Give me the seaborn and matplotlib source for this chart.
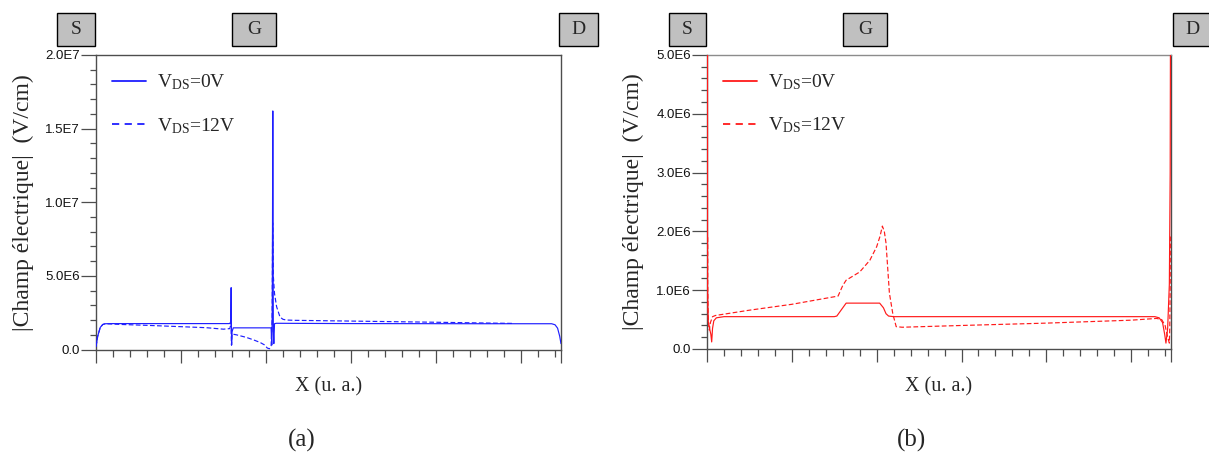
import matplotlib
matplotlib.use("Agg")
import matplotlib.pyplot as plt
import seaborn as sns
from matplotlib.patches import Rectangle
from matplotlib.lines import Line2D
from matplotlib.ticker import MultipleLocator, FixedLocator, FixedFormatter

# ---------------- data (x in arbitrary units, field in 1E6 V/cm) ----------------
# Panel (a): blue
xa_0v = [0.000, 0.020, 0.050, 0.080, 0.110, 0.200, 1.000, 1.570, 1.585, 1.590, 1.595, 1.600, 1.615,
         2.060, 2.068, 2.074, 2.080, 2.086, 2.092, 2.100, 2.120, 3.000, 4.500, 5.360, 5.400, 5.430,
         5.455, 5.470]
ya_0v = [0.20, 0.90, 1.50, 1.70, 1.75, 1.76, 1.76, 1.76, 1.85, 4.20, 0.30, 1.20, 1.47,
         1.47, 0.30, 2.95, 16.2, 1.20, 0.40, 1.75, 1.78, 1.76, 1.75, 1.75, 1.68, 1.45,
         0.90, 0.40]

xa_12v = [0.000, 0.020, 0.050, 0.080, 0.110, 0.300, 0.600, 1.000, 1.300, 1.500, 1.575, 1.588,
          1.594, 1.600, 1.650, 1.770, 1.850, 1.930, 1.980, 2.015, 2.040, 2.060, 2.072, 2.078,
          2.086, 2.100, 2.125, 2.165, 2.200, 2.240, 2.350, 3.000, 4.000, 4.920]
ya_12v = [0.20, 0.90, 1.50, 1.70, 1.75, 1.70, 1.64, 1.55, 1.48, 1.38, 1.42, 1.80,
          0.30, 1.05, 1.00, 0.82, 0.66, 0.48, 0.32, 0.10, 0.05, 0.25, 2.00, 8.60,
          5.00, 3.80, 2.90, 2.20, 2.05, 2.00, 1.98, 1.93, 1.85, 1.77]

# Panel (b): red
xb_0v = [0.006, 0.006, 0.009, 0.015, 0.030, 0.045, 0.055, 0.065, 0.080, 0.110, 0.200, 1.500,
         1.530, 1.580, 1.640, 1.700, 2.035, 2.080, 2.110, 2.140, 2.200, 3.500, 5.280, 5.330,
         5.370, 5.395, 5.410, 5.430, 5.450, 5.460, 5.464]
yb_0v = [6.00, 1.10, 0.80, 0.45, 0.35, 0.25, 0.12, 0.35, 0.48, 0.53, 0.55, 0.55,
         0.56, 0.66, 0.78, 0.78, 0.78, 0.70, 0.60, 0.56, 0.55, 0.55, 0.55, 0.53,
         0.45, 0.25, 0.10, 0.35, 1.10, 3.00, 6.00]

xb_12v = [0.008, 0.008, 0.012, 0.020, 0.027, 0.040, 0.065, 0.100, 0.500, 1.000, 1.545, 1.600,
          1.640, 1.800, 1.920, 2.000, 2.040, 2.067, 2.090, 2.110, 2.150, 2.190, 2.230, 2.300,
          3.000, 4.000, 5.000, 5.300, 5.360, 5.400, 5.430, 5.450, 5.455, 5.460, 5.462]
yb_12v = [1.90, 1.10, 0.60, 0.40, 0.32, 0.45, 0.55, 0.57, 0.66, 0.76, 0.90, 1.08,
          1.17, 1.31, 1.51, 1.74, 1.92, 2.09, 2.00, 1.80, 0.95, 0.60, 0.38, 0.37,
          0.40, 0.44, 0.49, 0.52, 0.50, 0.40, 0.20, 0.10, 0.35, 1.10, 1.95]

legend_labels = ["V$_{\\mathrm{DS}}$=0V", "V$_{\\mathrm{DS}}$=12V"]
yticks_a = [0.0, 5.0, 10.0, 15.0, 20.0]
yticklabels_a = ["0.0", "5.0E6", "1.0E7", "1.5E7", "2.0E7"]
yticks_b = [0.0, 1.0, 2.0, 3.0, 4.0, 5.0]
yticklabels_b = ["0.0", "1.0E6", "2.0E6", "3.0E6", "4.0E6", "5.0E6"]
xmajor = [0, 1, 2, 3, 4, 5, 5.47]
terminal_labels = ["S", "G", "D"]

# ---------------- style ----------------
sns.set_style("ticks")
plt.rcParams['font.family'] = ['Liberation Serif', 'DejaVu Serif']
plt.rcParams['mathtext.fontset'] = 'custom'
plt.rcParams['mathtext.rm'] = 'Liberation Serif'
plt.rcParams['mathtext.it'] = 'Liberation Serif:italic'
plt.rcParams['mathtext.bf'] = 'Liberation Serif:bold'

fig = plt.figure(figsize=(12.09, 4.62), dpi=100)
axA = fig.add_axes([0.0794, 0.2435, 0.3846, 0.6375])
axB = fig.add_axes([0.5848, 0.2446, 0.3838, 0.6364])

SPINE = "#4d4d4d"


def panel(ax, x0, y0, x12, y12, color, yticks, ylabels, ymax, yminor, topcolor):
    sns.lineplot(x=x0, y=y0, ax=ax, color=color, lw=0.85, estimator=None, sort=False,
                 legend=False, zorder=5)
    sns.lineplot(x=x12, y=y12, ax=ax, color=color, lw=0.85, estimator=None, sort=False,
                 linestyle=(0, (4, 2)), legend=False, zorder=5)
    ax.set_xlim(0, 5.47)
    ax.set_ylim(0, ymax)
    ax.xaxis.set_major_locator(FixedLocator(xmajor))
    ax.xaxis.set_minor_locator(MultipleLocator(0.2))
    ax.set_xticklabels([])
    ax.yaxis.set_major_locator(FixedLocator(yticks))
    ax.yaxis.set_major_formatter(FixedFormatter(ylabels))
    ax.yaxis.set_minor_locator(MultipleLocator(yminor))
    ax.tick_params(axis='y', which='major', length=10.5, width=0.9, color=SPINE,
                   direction='out', labelsize=9.5, pad=1, labelcolor="#111111")
    ax.tick_params(axis='y', which='minor', length=4.3, width=0.9, color=SPINE,
                   direction='out')
    ax.tick_params(axis='x', which='major', length=9.5, width=0.9, color=SPINE,
                   direction='out')
    ax.tick_params(axis='x', which='minor', length=5, width=0.9, color=SPINE,
                   direction='out')
    for lab in ax.get_yticklabels():
        lab.set_fontfamily('Liberation Sans')
    for s in ax.spines.values():
        s.set_color(SPINE)
        s.set_linewidth(1.0)
    ax.spines['top'].set_color(topcolor)
    ax.set_xlabel("X (u. a.)", fontsize=14.5, labelpad=7)
    ax.set_ylabel("|Champ électrique|  (V/cm)", fontsize=17)
    handles = [Line2D([], [], color=color, lw=1.3),
               Line2D([], [], color=color, lw=1.3, linestyle=(0, (4, 3)))]
    ax.legend(handles=handles, labels=legend_labels, loc='upper left',
              bbox_to_anchor=(0.018, 0.966), frameon=False, fontsize=14,
              handlelength=1.75, handletextpad=0.55, labelspacing=1.2,
              borderaxespad=0.0)


panel(axA, xa_0v, ya_0v, xa_12v, ya_12v, "#1f1fff", yticks_a, yticklabels_a, 20.0, 1.0, SPINE)
panel(axB, xb_0v, yb_0v, xb_12v, yb_12v, "#ff1a1a", yticks_b, yticklabels_b, 5.0, 0.2, "#8c8c8c")
axA.yaxis.set_label_coords(-0.133, 0.5)
axB.yaxis.set_label_coords(-0.136, 0.5)

# terminal boxes above the panels (pixel geometry -> figure fraction)
W, H = 1209.0, 462.0
boxes = [(57, 95), (232, 276), (559, 598), (669, 706), (843, 887), (1173, 1212)]
for i, (x0, x1) in enumerate(boxes):
    name = terminal_labels[i % 3]
    fig.patches.append(Rectangle((x0 / W, 1 - 46 / H), (x1 - x0) / W, 33 / H,
                                 transform=fig.transFigure, facecolor="#c0c0c0",
                                 edgecolor="black", lw=1.0))
    fig.text((x0 + x1) / 2 / W, 1 - 29.5 / H, name, ha='center', va='center',
             fontsize=14)

fig.text(302 / W, 1 - 440 / H, "(a)", ha='center', va='center', fontsize=18)
fig.text(912 / W, 1 - 440 / H, "(b)", ha='center', va='center', fontsize=18)

fig.savefig("out.png", dpi=100)
